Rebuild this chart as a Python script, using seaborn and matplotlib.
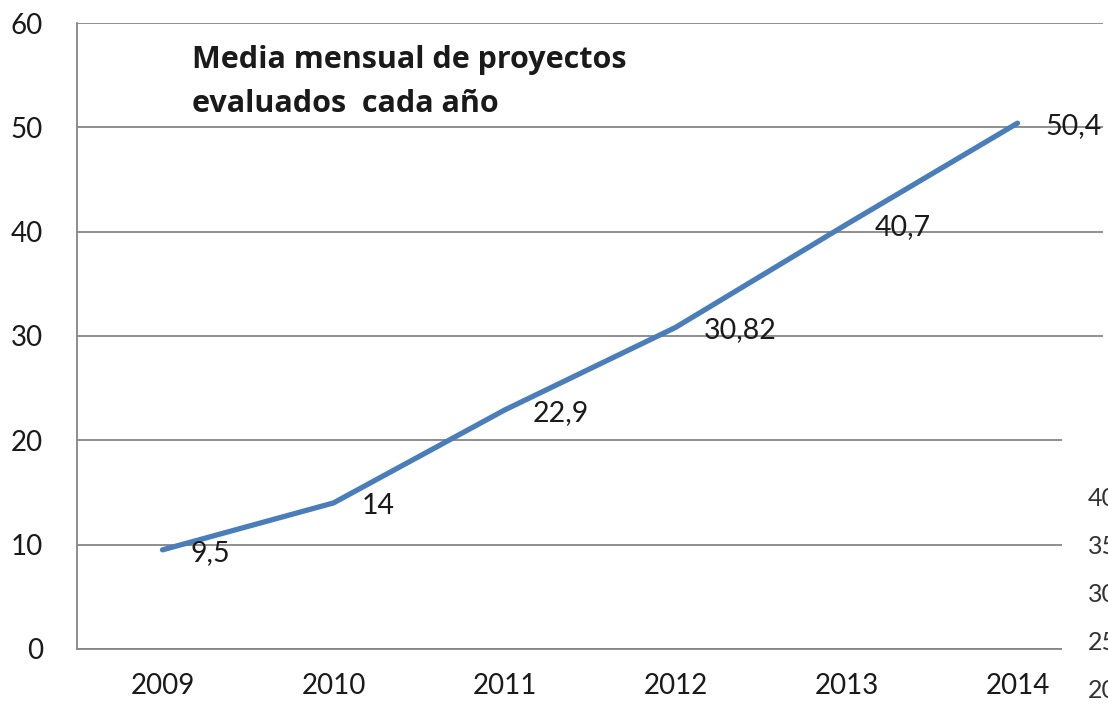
import matplotlib.pyplot as plt
import seaborn as sns
import pandas as pd
from matplotlib.patches import Rectangle

# datos
anios = ['2009', '2010', '2011', '2012', '2013', '2014']
media = [9.5, 14, 22.9, 30.82, 40.7, 50.4]
etiquetas = ['9,5', '14', '22,9', '30,82', '40,7', '50,4']
# eje de otro grafico que asoma por la derecha
otro_eje = [20, 25, 30, 35, 40]

sns.set_style('white')
plt.rcParams['font.family'] = ['Lato', 'DejaVu Sans']
gris = '#868686'
negro = '#1a1a1a'

fig = plt.figure(figsize=(11.08, 7.19), dpi=100)
ax = fig.add_axes([0.0695, 0.0974, 0.926, 0.8706])

df = pd.DataFrame({'anio': anios, 'media': media})
sns.lineplot(data=df, x='anio', y='media', color='#4a7ebb', linewidth=3.8, ax=ax)

for i, (v, t) in enumerate(zip(media, etiquetas)):
    ax.annotate(t, (i, v), xytext=(20, -2), textcoords='offset points',
                ha='left', va='center', fontsize=20.5, color=negro)

ax.set_xlim(-0.5, 5.5)
ax.set_ylim(0, 60)
ax.set_yticks(range(0, 61, 10))
ax.set_axisbelow(True)
ax.yaxis.grid(True, color=gris, lw=1.3)
ax.set_xticks(range(len(anios)))
ax.set_xticklabels(anios)
ax.set_xticks([i + 0.5 for i in range(-1, len(anios))], minor=True)
ax.tick_params(axis='x', which='major', length=0, pad=17, labelsize=20, labelcolor=negro)
ax.tick_params(axis='x', which='minor', length=9.5, color=gris, width=1.3)
ax.tick_params(axis='y', length=7.5, color=gris, width=1.3, labelsize=20, pad=17,
               labelcolor=negro)
for s in ['top', 'right']:
    ax.spines[s].set_visible(False)
for s in ['left', 'bottom']:
    ax.spines[s].set_color(gris)
    ax.spines[s].set_linewidth(1.3)
ax.set_xlabel('')
ax.set_ylabel('')

titulo = ['Media mensual de proyectos', 'evaluados  cada año']
for k, linea in enumerate(titulo):
    fig.text(0.173, 1 - (68 + 44 * k) / 719, linea, ha='left', va='baseline',
             fontsize=22, fontweight='bold', color=negro,
             family=['Open Sans', 'DejaVu Sans'])

# recorte de la captura: otro grafico tapa la esquina inferior derecha
fig.patches.append(Rectangle((1062 / 1108, 0), 1, 0.47, transform=fig.transFigure,
                             facecolor='white', edgecolor='none', zorder=5))
ax2 = fig.add_axes([0.981, 0.0431, 0.0005, 0.2657], zorder=6)
ax2.set_ylim(20, 40)
ax2.set_yticks(otro_eje)
ax2.set_xticks([])
ax2.yaxis.tick_right()
ax2.tick_params(axis='y', length=0, pad=0, labelsize=18, labelcolor='#333333')
ax2.patch.set_visible(False)
for s in ax2.spines.values():
    s.set_visible(False)

plt.savefig('out.png', dpi=100)
